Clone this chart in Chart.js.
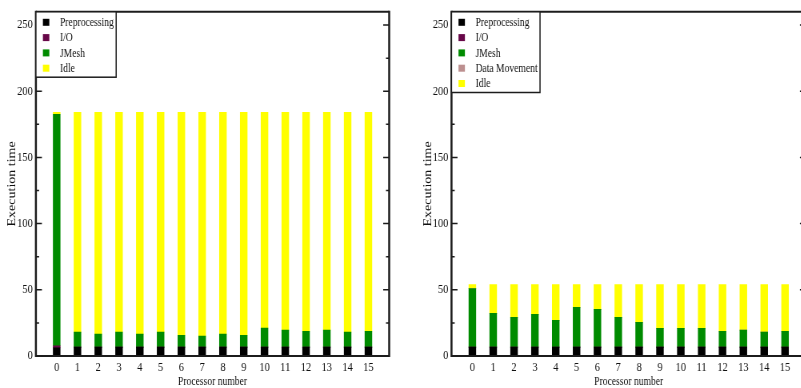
<!DOCTYPE html>
<html>
<head>
<meta charset="utf-8">
<script src="https://cdn.jsdelivr.net/npm/chart.js@4.4.1/dist/chart.umd.min.js"></script>
<style>
  html, body { margin: 0; padding: 0; background: #fff; overflow: hidden; width: 801px; height: 388px; }
  .panel { position: absolute; top: 0; height: 388px; transform: scaleX(0.8); transform-origin: 0 0; }
  #leftPanel { left: 0; width: 500px; }
  #rightPanel { left: 400px; width: 510px; }
</style>
</head>
<body>
<div class="panel" id="leftPanel"><canvas id="leftChart"></canvas></div>
<div class="panel" id="rightPanel"><canvas id="rightChart"></canvas></div>
<script>
// Processor indices on the x axis
const procs = [0, 1, 2, 3, 4, 5, 6, 7, 8, 9, 10, 11, 12, 13, 14, 15];
// Labelled y ticks (minor ticks sit halfway between)
const yTickValues = [0, 50, 100, 150, 200, 250];

// Left run: per-processor time spent in each phase
const leftPrep  = [6.2, 6.7, 6.7, 6.7, 6.7, 6.7, 6.7, 6.7, 6.7, 6.7, 6.7, 6.7, 6.7, 6.7, 6.7, 6.7];
const leftIO    = [1.5, 0, 0, 0, 0, 0, 0, 0, 0, 0, 0, 0, 0, 0, 0, 0];
const leftJMesh = [174.9, 11.3, 9.8, 11.3, 9.8, 11.3, 9.0, 8.3, 9.8, 9.0, 14.3, 12.8, 12.0, 12.8, 11.3, 12.0];
const leftIdle  = [1.4, 166.0, 167.5, 166.0, 167.5, 166.0, 168.3, 169.0, 167.5, 168.3, 163.0, 164.5, 165.3, 164.5, 166.0, 165.3];

// Right run: per-processor time spent in each phase
const rightPrep  = [6.7, 6.7, 6.7, 6.7, 6.7, 6.7, 6.7, 6.7, 6.7, 6.7, 6.7, 6.7, 6.7, 6.7, 6.7, 6.7];
const rightIO    = [0, 0, 0, 0, 0, 0, 0, 0, 0, 0, 0, 0, 0, 0, 0, 0];
const rightJMesh = [44.2, 25.5, 22.5, 24.7, 20.2, 30.0, 28.5, 22.5, 18.7, 14.2, 14.2, 14.2, 12.0, 12.8, 11.3, 12.0];
const rightMove  = [0, 0, 0, 0, 0, 0, 0, 0, 0, 0, 0, 0, 0, 0, 0, 0];
const rightIdle  = [3.1, 21.8, 24.8, 22.6, 27.1, 17.3, 18.8, 24.8, 28.6, 33.1, 33.1, 33.1, 35.3, 34.5, 36.0, 35.3];

const COLORS = {
  prep: '#000000',
  io: '#670748',
  jmesh: '#008b00',
  move: '#bc8f8f',
  idle: '#ffff00'
};
const FONT = "'Liberation Serif', 'Times New Roman', serif";
const INK = '#1c1c1c';

function series(label, values, color) {
  return {
    label,
    data: values.map((v, i) => ({ x: procs[i], y: v })),
    backgroundColor: color,
    borderWidth: 0,
    barThickness: 8.75
  };
}

// Frame, inward y ticks on both sides and a boxed legend in the top-left corner
const framePlugin = {
  id: 'frameLegend',
  afterDraw(chart) {
    const { ctx, chartArea: a, scales: { y } } = chart;
    ctx.save();
    ctx.strokeStyle = INK;

    // plot frame
    ctx.lineWidth = 2;
    ctx.beginPath();
    ctx.moveTo(a.left, a.top); ctx.lineTo(a.right, a.top);
    ctx.moveTo(a.left, a.bottom); ctx.lineTo(a.right, a.bottom);
    ctx.stroke();
    ctx.lineWidth = 2.5;
    ctx.beginPath();
    ctx.moveTo(a.left, a.top - 1); ctx.lineTo(a.left, a.bottom + 1);
    ctx.moveTo(a.right, a.top - 1); ctx.lineTo(a.right, a.bottom + 1);
    ctx.stroke();

    // major and minor ticks, pointing inward
    ctx.lineWidth = 1.5;
    ctx.beginPath();
    const step = yTickValues[1] - yTickValues[0];
    for (let v = yTickValues[0]; v <= yTickValues[yTickValues.length - 1]; v += step / 2) {
      const py = y.getPixelForValue(v);
      const len = yTickValues.includes(v) ? 7.5 : 4;
      ctx.moveTo(a.left, py); ctx.lineTo(a.left + len, py);
      ctx.moveTo(a.right, py); ctx.lineTo(a.right - len, py);
    }
    ctx.stroke();

    // legend box
    const ds = chart.data.datasets;
    ctx.font = '12px ' + FONT;
    const textW = Math.max(...ds.map(d => ctx.measureText(d.label).width));
    const rowStep = 15.3;
    const boxW = 30 + textW + 3;
    const boxH = 10.5 + (ds.length - 1) * rowStep + 9;
    ctx.fillStyle = '#fff';
    ctx.fillRect(a.left, a.top, boxW, boxH);
    ctx.lineWidth = 1.5;
    ctx.strokeRect(a.left, a.top, boxW, boxH);
    ctx.textBaseline = 'middle';
    ctx.textAlign = 'left';
    ds.forEach((d, i) => {
      const cy = a.top + 10.5 + i * rowStep;
      ctx.fillStyle = d.backgroundColor;
      ctx.fillRect(a.left + 8.75, cy - 3.5, 8, 7);
      ctx.fillStyle = '#111';
      ctx.fillText(d.label, a.left + 30, cy + 0.5);
    });
    ctx.restore();
  }
};

function makeChart(id, datasets, padLeft, padRight) {
  return new Chart(document.getElementById(id), {
    type: 'bar',
    data: { datasets },
    options: {
      responsive: true,
      maintainAspectRatio: false,
      animation: false,
      devicePixelRatio: 1,
      layout: { padding: { left: padLeft, right: padRight, top: 9, bottom: 0 } },
      plugins: { legend: { display: false }, tooltip: { enabled: false } },
      scales: {
        x: {
          type: 'linear',
          stacked: true,
          offset: false,
          min: -1,
          max: 16,
          grid: { display: false, drawTicks: false, offset: false },
          border: { display: false },
          afterBuildTicks: s => { s.ticks = procs.map(v => ({ value: v })); },
          afterFit: s => { s.height = 32; },
          ticks: {
            autoSkip: false,
            maxRotation: 0,
            padding: 4,
            color: '#111',
            font: { family: FONT, size: 13 },
            callback: v => String(v)
          },
          title: {
            display: true,
            text: 'Processor number',
            color: '#111',
            font: { family: FONT, size: 12, lineHeight: 1 },
            padding: { top: 0, bottom: 0 }
          }
        },
        y: {
          stacked: true,
          min: 0,
          max: 260,
          grid: { display: false, drawTicks: false },
          border: { display: false },
          afterBuildTicks: s => { s.ticks = yTickValues.map(v => ({ value: v })); },
          afterFit: s => { s.width = 44.9; },
          ticks: {
            padding: 4,
            color: '#111',
            font: { family: FONT, size: 13 }
          },
          title: {
            display: true,
            text: 'Execution time',
            color: '#111',
            font: { family: FONT, size: 14, lineHeight: 1.2 },
            padding: { top: 7, bottom: 0 }
          }
        }
      }
    },
    plugins: [framePlugin]
  });
}

makeChart('leftChart', [
  series('Preprocessing', leftPrep, COLORS.prep),
  series('I/O', leftIO, COLORS.io),
  series('JMesh', leftJMesh, COLORS.jmesh),
  series('Idle', leftIdle, COLORS.idle)
], 0, 13.5);

makeChart('rightChart', [
  series('Preprocessing', rightPrep, COLORS.prep),
  series('I/O', rightIO, COLORS.io),
  series('JMesh', rightJMesh, COLORS.jmesh),
  series('Data Movement', rightMove, COLORS.move),
  series('Idle', rightIdle, COLORS.idle)
], 19.5, 2.6);
</script>
</body>
</html>
